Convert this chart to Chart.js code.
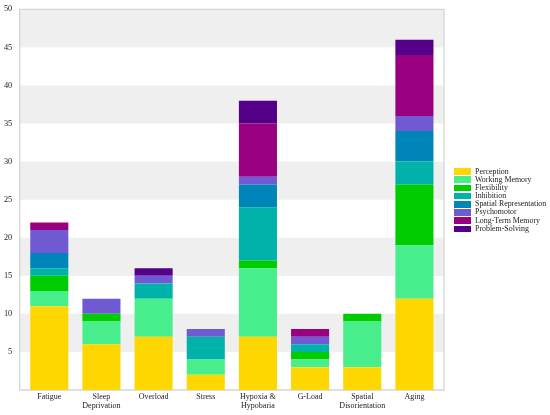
<!DOCTYPE html>
<html>
<head>
<meta charset="utf-8">
<script src="https://cdn.jsdelivr.net/npm/chart.js@4"></script>
<style>
  html, body { margin:0; padding:0; background:#fff; }
  #wrap { width:550px; height:415px; position:relative; }
  #legend { position:absolute; left:454px; top:167.5px; font-family:'Liberation Serif','Times New Roman',serif;
            font-size:7.9px; color:#222; line-height:8.2px; }
  #legend div { display:flex; align-items:center; height:8.2px; white-space:nowrap; }
  #legend span.b { display:inline-block; width:17px; height:6.6px; margin-right:4px; }
</style>
</head>
<body>
<div id="wrap"><canvas id="chart"></canvas><div id="legend"></div></div>
<script>
// categories and series
const categories = [['Fatigue'], ['Sleep', 'Deprivation'], ['Overload'], ['Stress'],
  ['Hypoxia &', 'Hypobaria'], ['G-Load'], ['Spatial', 'Disorientation'], ['Aging']];

const perception     = [11, 6, 7, 2, 7, 3, 3, 12];
const workingMemory  = [2, 3, 5, 2, 9, 1, 6, 7];
const flexibility    = [2, 1, 0, 0, 1, 1, 1, 8];
const inhibition     = [1, 0, 2, 3, 7, 1, 0, 3];
const spatialRep     = [2, 0, 0, 0, 3, 0, 0, 4];
const psychomotor    = [3, 2, 1, 1, 1, 1, 0, 2];
const longTermMemory = [1, 0, 0, 0, 7, 1, 0, 8];
const problemSolving = [0, 0, 1, 0, 3, 0, 0, 2];

const yTicks = [5, 10, 15, 20, 25, 30, 35, 40, 45, 50];

const seriesNames  = ['Perception', 'Working Memory', 'Flexibility', 'Inhibition',
  'Spatial Representation', 'Psychomotor', 'Long-Term Memory', 'Problem-Solving'];
const seriesValues = [perception, workingMemory, flexibility, inhibition,
  spatialRep, psychomotor, longTermMemory, problemSolving];
const seriesColors = ['#FFD700', '#48EE8B', '#00CC00', '#00B2A9',
  '#0085B8', '#705AD4', '#99007F', '#550088'];

const FONT = "'Liberation Serif', 'Times New Roman', serif";
const PAD = 3.5; // frame sticks out a little beyond the bars

// grey bands + frame behind the bars
const bands = {
  id: 'bands',
  beforeDatasetsDraw(c){
    const {ctx, chartArea:a, scales:{y}} = c;
    const l = a.left - PAD, r = a.right + PAD;
    ctx.save();
    ctx.fillStyle = '#efefef';
    for(let v = 5; v < 50; v += 10){
      const top = y.getPixelForValue(v + 5), bot = y.getPixelForValue(v);
      ctx.fillRect(l, top, r - l, bot - top);
    }
    ctx.strokeStyle = '#d6d6d6';
    ctx.lineWidth = 1.3;
    ctx.beginPath();
    ctx.moveTo(l, a.bottom); ctx.lineTo(l, a.top);
    ctx.lineTo(r, a.top); ctx.lineTo(r, a.bottom);
    ctx.lineTo(l, a.bottom);
    ctx.stroke();
    ctx.restore();
  }
};

Chart.defaults.font.family = FONT;
Chart.defaults.color = '#222';

new Chart(document.getElementById('chart'), {
  type: 'bar',
  data: {
    labels: categories,
    datasets: seriesNames.map((n, i) => ({
      label: n,
      data: seriesValues[i],
      backgroundColor: seriesColors[i],
      borderWidth: 0,
      barPercentage: 0.73,
      categoryPercentage: 1
    }))
  },
  options: {
    responsive: true,
    maintainAspectRatio: false,
    animation: false,
    layout: { padding: { top: 9.3, right: 109.5, left: 0, bottom: 0 } },
    scales: {
      x: {
        stacked: true,
        grid: { display: false, drawTicks: false },
        border: { display: false },
        afterFit(ax){ ax.height = 25; ax.paddingLeft = 0; ax.paddingRight = 0; },
        ticks: { font: { size: 8, lineHeight: 1.05 }, padding: 3, maxRotation: 0, autoSkip: false }
      },
      y: {
        stacked: true,
        min: 0, max: 50,
        afterBuildTicks(ax){ ax.ticks = yTicks.map(v => ({value: v})); },
        afterFit(ax){ ax.width = 23.2; ax.paddingTop = 0; ax.paddingBottom = 0; },
        grid: { display: false, drawTicks: false },
        border: { display: false },
        ticks: { font: { size: 8.3 }, padding: 11 }
      }
    },
    plugins: {
      tooltip: { enabled: false },
      legend: { display: false }
    }
  },
  plugins: [bands]
});

// legend built from the same arrays
const lg = document.getElementById('legend');
seriesNames.forEach((n, i) => {
  const row = document.createElement('div');
  row.innerHTML = '<span class="b" style="background:' + seriesColors[i] + '"></span>' + n;
  lg.appendChild(row);
});
</script>
</body>
</html>
